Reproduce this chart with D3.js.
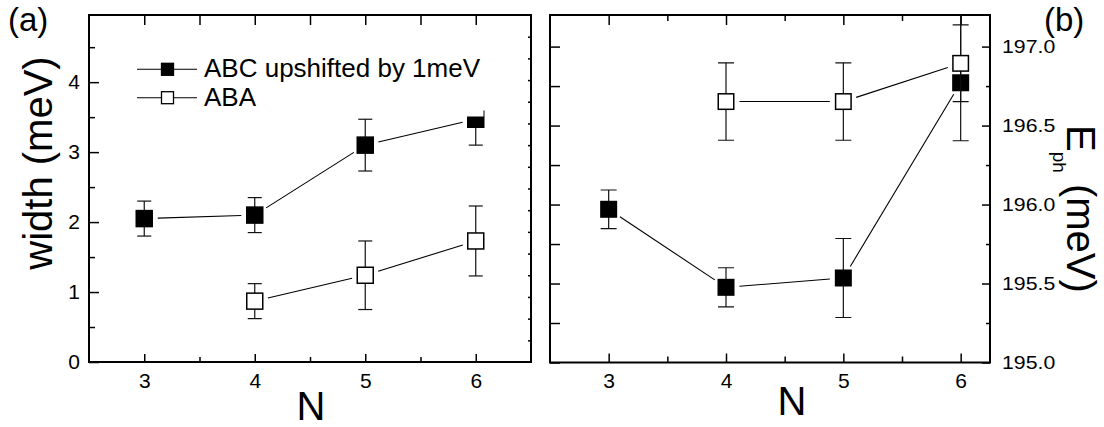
<!DOCTYPE html>
<html>
<head>
<meta charset="utf-8">
<script src="https://cdn.jsdelivr.net/npm/d3@7"></script>
<style>
  body { margin: 0; background: #fff; }
  svg { display: block; font-family: "Liberation Sans", Arial, sans-serif; }
</style>
</head>
<body>
<svg id="chart" width="1104" height="427"></svg>
<script>
// values
const nABC = [3, 4, 5, 6];
const nABA = [4, 5, 6];
const widthABC = [2.05, 2.10, 3.10, 3.47];
const widthABCErr = [0.25, 0.25, 0.37, 0.37];
const widthABA = [0.87, 1.24, 1.73];
const widthABAErr = [0.25, 0.49, 0.50];
const ephABC = [195.97, 195.476, 195.535, 196.771];
const ephABCErr = [0.122, 0.124, 0.25, 0.367];
const ephABA = [196.652, 196.652, 196.894];
const ephABAErrDown = [0.245, 0.245, 0.243];
const ephABAErrUp = [0.245, 0.245, 0.40];
const nTicks = [3, 4, 5, 6];
const nMinor = [3.5, 4.5, 5.5];
const widthTicks = [0, 1, 2, 3, 4];
const widthMinor = [0.5, 1.5, 2.5, 3.5, 4.5];
const ephTicks = [195.0, 195.5, 196.0, 196.5, 197.0];
const ephMinor = [195.25, 195.75, 196.25, 196.75];
const legendLabels = ['ABC upshifted by 1meV', 'ABA'];

const svg = d3.select('#chart');

const xA = d3.scaleLinear().domain([2.5, 6.5]).range([89, 531]);
const yA = d3.scaleLinear().domain([0, 4.96]).range([362, 15]);
const yA2 = d3.scaleLinear().domain([0, 16]).range([362, 15]); // unlabelled mirror ticks
const xB = d3.scaleLinear().domain([2.5, 6.25]).range([550, 990]);
const yB = d3.scaleLinear().domain([195, 197.2]).range([362.5, 15]);

// clip paths
const defs = svg.append('defs');
defs.append('clipPath').attr('id', 'clipA').append('rect')
	.attr('x', 89).attr('y', 15).attr('width', 442).attr('height', 347);
defs.append('clipPath').attr('id', 'clipB').append('rect')
	.attr('x', 550).attr('y', 15).attr('width', 440).attr('height', 347.5);

function axis(gen, transform, values, size, pad, fmt, fs) {
	const g = svg.append('g').attr('transform', transform)
		.call(gen.tickValues(values).tickSize(size).tickPadding(pad).tickFormat(fmt));
	g.select('.domain').remove();
	g.selectAll('line').attr('stroke', '#000').attr('stroke-width', 1.5);
	g.selectAll('text').attr('fill', '#000').style('font-size', fs + 'px')
		.style('font-family', '"Liberation Sans", Arial, sans-serif');
	return g;
}
const none = () => '';

// ---- panel (a) axes
axis(d3.axisBottom(xA), 'translate(0,362)', nTicks, -8, 11, d3.format('d'), 21);
axis(d3.axisBottom(xA), 'translate(0,362)', nMinor, -5, 0, none, 0);
axis(d3.axisTop(xA), 'translate(0,15)', nTicks.concat(nMinor), -10, 0, none, 0);
axis(d3.axisLeft(yA), 'translate(89,0)', widthTicks, -10, 9, d3.format('d'), 21);
axis(d3.axisLeft(yA), 'translate(89,0)', widthMinor, -6, 0, none, 0);
axis(d3.axisRight(yA2), 'translate(531,0)', d3.range(1, 16), -3, 0, none, 0);

// ---- panel (b) axes
axis(d3.axisBottom(xB), 'translate(0,362.5)', nTicks, -9, 11, d3.format('d'), 21);
axis(d3.axisBottom(xB), 'translate(0,362.5)', nMinor, -6, 0, none, 0);
axis(d3.axisTop(xB), 'translate(0,15)', nTicks, -10, 0, none, 0);
axis(d3.axisTop(xB), 'translate(0,15)', nMinor, -6, 0, none, 0);
axis(d3.axisRight(yB), 'translate(550,0)', ephTicks.concat(ephMinor), 10, 0, none, 0)
	.selectAll('line').attr('x2', 10);
const rb = axis(d3.axisRight(yB), 'translate(990,0)', ephTicks, -8, 0, d3.format('.1f'), 19);
rb.selectAll('text').attr('x', 0).attr('transform', 'translate(12,0) scale(1.12,1)');
axis(d3.axisRight(yB), 'translate(990,0)', ephMinor, -4, 0, none, 0);

// frames
[[89, 15, 442, 347], [550, 15, 440, 347.5]].forEach(([x, y, w, h]) => {
	svg.append('rect').attr('x', x).attr('y', y).attr('width', w).attr('height', h)
		.attr('fill', 'none').attr('stroke', '#000').attr('stroke-width', 2);
});

// ---- data drawing
function series(x, y, ns, vals, errDown, errUp, filled, size, cap, clip) {
	const g = svg.append('g').attr('clip-path', `url(#${clip})`);
	const pts = ns.map((n, i) => ({
		x: x(n), y: y(vals[i]), lo: y(vals[i] - errDown[i]), hi: y(vals[i] + errUp[i])
	}));
	// error bars
	pts.forEach(p => {
		g.append('line').attr('x1', p.x).attr('x2', p.x).attr('y1', p.lo).attr('y2', p.hi)
			.attr('stroke', '#111').attr('stroke-width', 1.2);
		[p.lo, p.hi].forEach(yy => g.append('line')
			.attr('x1', p.x - cap / 2).attr('x2', p.x + cap / 2).attr('y1', yy).attr('y2', yy)
			.attr('stroke', '#111').attr('stroke-width', 1.2));
	});
	// connecting segments, stopped short of the markers
	const gap = 13.5;
	d3.pairs(pts).forEach(([a, b]) => {
		const dx = b.x - a.x, dy = b.y - a.y, L = Math.hypot(dx, dy);
		const ux = dx / L, uy = dy / L;
		g.append('line')
			.attr('x1', a.x + ux * gap).attr('y1', a.y + uy * gap)
			.attr('x2', b.x - ux * gap).attr('y2', b.y - uy * gap)
			.attr('stroke', '#000').attr('stroke-width', 1.1);
	});
	// markers
	g.selectAll('rect.m').data(pts).join('rect').attr('class', 'm')
		.attr('x', d => d.x - size / 2).attr('y', d => d.y - size / 2)
		.attr('width', size).attr('height', size)
		.attr('fill', filled ? '#000' : '#fff')
		.attr('stroke', '#000').attr('stroke-width', 1.5);
}

series(xA, yA, nABA, widthABA, widthABAErr, widthABAErr, false, 16, 14, 'clipA');
series(xA, yA, nABC, widthABC, widthABCErr, widthABCErr, true, 16, 14, 'clipA');
series(xB, yB, nABC, ephABC, ephABCErr, ephABCErr, true, 15.5, 16, 'clipB');
series(xB, yB, nABA, ephABA, ephABAErrDown, ephABAErrUp, false, 15.5, 16, 'clipB');

// ---- legend (opaque box, as in the original)
const lg = svg.append('g');
lg.append('rect').attr('x', 128).attr('y', 50).attr('width', 355.5).attr('height', 66.5).attr('fill', '#fff');
legendLabels.forEach((t, i) => {
	const yy = 69.3 + i * 28.4;
	lg.append('line').attr('x1', 137).attr('x2', 197).attr('y1', yy).attr('y2', yy)
		.attr('stroke', '#000').attr('stroke-width', 1.1);
	lg.append('rect').attr('x', 167.5 - 6).attr('y', yy - 6).attr('width', 12).attr('height', 12)
		.attr('fill', i === 0 ? '#000' : '#fff').attr('stroke', '#000').attr('stroke-width', 1.3);
	lg.append('text').attr('x', 204).attr('y', yy + 8).style('font-size', '26px').text(t);
});

// ---- titles
svg.append('text').attr('x', 8).attr('y', 31).style('font-size', '33px').text('(a)');
svg.append('text').attr('x', 1044).attr('y', 31).style('font-size', '33px').text('(b)');
svg.append('text').attr('x', 311).attr('y', 420).attr('text-anchor', 'middle').style('font-size', '40px').text('N');
svg.append('text').attr('x', 792).attr('y', 415).attr('text-anchor', 'middle').style('font-size', '40px').text('N');
svg.append('text').attr('transform', 'translate(52,163) rotate(-90)').attr('text-anchor', 'middle')
	.style('font-size', '40px').text('width (meV)');
const et = svg.append('text').attr('transform', 'translate(1067,125) rotate(90)').style('font-size', '40px');
et.append('tspan').text('E');
et.append('tspan').attr('dy', 14).style('font-size', '19px').text('ph');
et.append('tspan').attr('dy', -14).text(' (meV)');
</script>
</body>
</html>
